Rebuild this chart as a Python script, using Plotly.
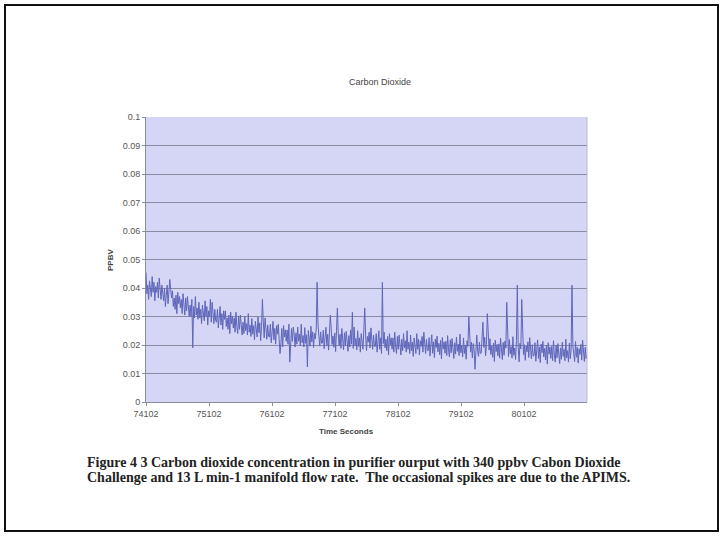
import plotly.graph_objects as go

# ---- data ----
t_start = 74102
t_step = 14
ppbv = [
    0.0455, 0.0380, 0.0410, 0.0360, 0.0425, 0.0405, 0.0370, 0.0440, 0.0385, 0.0420,
    0.0355, 0.0405, 0.0385, 0.0420, 0.0365, 0.0435, 0.0380, 0.0360, 0.0410, 0.0370,
    0.0355, 0.0400, 0.0335, 0.0375, 0.0410, 0.0345, 0.0385, 0.0430, 0.0395, 0.0365,
    0.0390, 0.0335, 0.0365, 0.0325, 0.0375, 0.0310, 0.0385, 0.0345, 0.0370, 0.0330,
    0.0360, 0.0310, 0.0380, 0.0330, 0.0305, 0.0365, 0.0320, 0.0370, 0.0345, 0.0300,
    0.0340, 0.0300, 0.0360, 0.0190, 0.0335, 0.0295, 0.0370, 0.0305, 0.0330, 0.0290,
    0.0350, 0.0295, 0.0325, 0.0275, 0.0340, 0.0320, 0.0285, 0.0355, 0.0300, 0.0335,
    0.0270, 0.0320, 0.0300, 0.0360, 0.0280, 0.0350, 0.0295, 0.0275, 0.0325, 0.0285,
    0.0280, 0.0325, 0.0260, 0.0300, 0.0335, 0.0270, 0.0310, 0.0255, 0.0320, 0.0290,
    0.0320, 0.0265, 0.0295, 0.0255, 0.0305, 0.0240, 0.0315, 0.0275, 0.0300, 0.0260,
    0.0295, 0.0245, 0.0315, 0.0265, 0.0240, 0.0300, 0.0255, 0.0305, 0.0280, 0.0235,
    0.0280, 0.0240, 0.0300, 0.0250, 0.0275, 0.0235, 0.0310, 0.0245, 0.0270, 0.0230,
    0.0293, 0.0238, 0.0268, 0.0218, 0.0283, 0.0263, 0.0228, 0.0298, 0.0243, 0.0278,
    0.0215, 0.0265, 0.0360, 0.0280, 0.0225, 0.0295, 0.0240, 0.0220, 0.0270, 0.0230,
    0.0228, 0.0273, 0.0208, 0.0248, 0.0283, 0.0218, 0.0258, 0.0203, 0.0268, 0.0238,
    0.0273, 0.0218, 0.0170, 0.0208, 0.0258, 0.0193, 0.0268, 0.0228, 0.0253, 0.0213,
    0.0253, 0.0203, 0.0273, 0.0140, 0.0198, 0.0258, 0.0213, 0.0263, 0.0238, 0.0193,
    0.0243, 0.0203, 0.0263, 0.0213, 0.0238, 0.0198, 0.0273, 0.0208, 0.0233, 0.0193,
    0.0261, 0.0206, 0.0236, 0.0123, 0.0251, 0.0231, 0.0196, 0.0266, 0.0211, 0.0246,
    0.0191, 0.0241, 0.0221, 0.0256, 0.0420, 0.0271, 0.0216, 0.0196, 0.0246, 0.0206,
    0.0207, 0.0252, 0.0187, 0.0227, 0.0262, 0.0197, 0.0237, 0.0182, 0.0247, 0.0305,
    0.0257, 0.0202, 0.0232, 0.0192, 0.0242, 0.0177, 0.0252, 0.0330, 0.0237, 0.0197,
    0.0238, 0.0188, 0.0258, 0.0208, 0.0183, 0.0243, 0.0198, 0.0248, 0.0223, 0.0178,
    0.0233, 0.0193, 0.0253, 0.0203, 0.0315, 0.0188, 0.0263, 0.0198, 0.0223, 0.0183,
    0.0250, 0.0195, 0.0225, 0.0175, 0.0240, 0.0220, 0.0185, 0.0255, 0.0330, 0.0235,
    0.0180, 0.0230, 0.0210, 0.0245, 0.0190, 0.0260, 0.0205, 0.0185, 0.0235, 0.0195,
    0.0195, 0.0240, 0.0175, 0.0215, 0.0250, 0.0185, 0.0225, 0.0170, 0.0420, 0.0205,
    0.0245, 0.0190, 0.0220, 0.0180, 0.0230, 0.0165, 0.0240, 0.0200, 0.0225, 0.0185,
    0.0225, 0.0175, 0.0245, 0.0195, 0.0170, 0.0230, 0.0185, 0.0235, 0.0210, 0.0165,
    0.0220, 0.0180, 0.0240, 0.0190, 0.0215, 0.0175, 0.0250, 0.0185, 0.0210, 0.0170,
    0.0235, 0.0180, 0.0210, 0.0160, 0.0225, 0.0205, 0.0170, 0.0240, 0.0185, 0.0220,
    0.0165, 0.0215, 0.0195, 0.0230, 0.0175, 0.0245, 0.0190, 0.0170, 0.0220, 0.0180,
    0.0181, 0.0226, 0.0161, 0.0201, 0.0236, 0.0171, 0.0211, 0.0156, 0.0221, 0.0191,
    0.0231, 0.0176, 0.0206, 0.0166, 0.0216, 0.0151, 0.0226, 0.0186, 0.0211, 0.0171,
    0.0213, 0.0163, 0.0233, 0.0183, 0.0158, 0.0218, 0.0173, 0.0223, 0.0198, 0.0153,
    0.0208, 0.0168, 0.0228, 0.0178, 0.0203, 0.0163, 0.0238, 0.0173, 0.0198, 0.0158,
    0.0225, 0.0170, 0.0200, 0.0150, 0.0215, 0.0195, 0.0300, 0.0230, 0.0175, 0.0210,
    0.0155, 0.0205, 0.0185, 0.0115, 0.0165, 0.0235, 0.0180, 0.0160, 0.0210, 0.0170,
    0.0172, 0.0217, 0.0280, 0.0192, 0.0227, 0.0162, 0.0202, 0.0310, 0.0212, 0.0182,
    0.0222, 0.0167, 0.0197, 0.0157, 0.0207, 0.0142, 0.0217, 0.0177, 0.0202, 0.0162,
    0.0204, 0.0154, 0.0224, 0.0174, 0.0149, 0.0209, 0.0164, 0.0214, 0.0189, 0.0350,
    0.0199, 0.0159, 0.0219, 0.0169, 0.0194, 0.0154, 0.0229, 0.0164, 0.0189, 0.0149,
    0.0216, 0.0410, 0.0191, 0.0141, 0.0206, 0.0186, 0.0360, 0.0221, 0.0166, 0.0201,
    0.0146, 0.0196, 0.0176, 0.0211, 0.0156, 0.0226, 0.0171, 0.0151, 0.0201, 0.0161,
    0.0163, 0.0208, 0.0143, 0.0183, 0.0218, 0.0153, 0.0193, 0.0138, 0.0203, 0.0173,
    0.0213, 0.0158, 0.0188, 0.0148, 0.0198, 0.0133, 0.0208, 0.0168, 0.0193, 0.0153,
    0.0195, 0.0145, 0.0215, 0.0165, 0.0140, 0.0200, 0.0155, 0.0205, 0.0180, 0.0135,
    0.0190, 0.0150, 0.0210, 0.0160, 0.0185, 0.0145, 0.0220, 0.0155, 0.0180, 0.0140,
    0.0207, 0.0152, 0.0182, 0.0410, 0.0197, 0.0177, 0.0142, 0.0212, 0.0157, 0.0192,
    0.0137, 0.0187, 0.0167, 0.0202, 0.0147, 0.0217, 0.0162, 0.0142, 0.0192, 0.0152,
    0.0170,
]
time_s = [t_start + t_step * i for i in range(len(ppbv))]

x_tick_vals = [74102, 75102, 76102, 77102, 78102, 79102, 80102]
x_tick_text = ["74102", "75102", "76102", "77102", "78102", "79102", "80102"]
y_tick_vals = [0, 0.01, 0.02, 0.03, 0.04, 0.05, 0.06, 0.07, 0.08, 0.09, 0.1]
y_tick_text = ["0", "0.01", "0.02", "0.03", "0.04", "0.05", "0.06", "0.07", "0.08", "0.09", "0.1"]

chart_title = "Carbon Dioxide"
x_title = "Time Seconds"
y_title = "PPBV"
caption_1 = "Figure 4 3 Carbon dioxide concentration in purifier ourput with 340 ppbv Cabon Dioxide"
caption_2 = "Challenge and 13 L min-1 manifold flow rate.  The occasional spikes are due to the APIMS."

# ---- geometry (pixels) ----
W, H = 723, 536
L, R, T, B = 146, 587, 117, 402


def px(x):
    return (x - L) / (R - L)


def py(y):
    return (B - y) / (B - T)


fig = go.Figure()
fig.add_trace(go.Scatter(
    x=time_s, y=ppbv, mode="lines",
    line=dict(color="#5e66ba", width=1),
    hoverinfo="x+y", showlegend=False,
))

sans = "Liberation Sans, Arial, sans-serif"
serif = "Liberation Serif, Times New Roman, serif"
fig.update_layout(
    width=W, height=H,
    margin=dict(l=L, r=W - R, t=T, b=H - B, pad=0),
    paper_bgcolor="white",
    plot_bgcolor="#d5d5f5",
    showlegend=False,
    xaxis=dict(
        range=[74102, 81102], tickvals=x_tick_vals, ticktext=x_tick_text,
        showgrid=False, zeroline=False,
        showline=True, linecolor="#8c8ca0", linewidth=1,
        ticks="outside", ticklen=3, tickcolor="#8c8ca0",
        tickfont=dict(family=sans, size=9, color="#555555"),
    ),
    yaxis=dict(
        range=[0, 0.1], tickvals=y_tick_vals, ticktext=y_tick_text,
        showgrid=True, gridcolor="#8a8aa0", gridwidth=1,
        zeroline=False,
        showline=True, linecolor="#8c8ca0", linewidth=1,
        ticks="outside", ticklen=3, tickcolor="#8c8ca0",
        tickfont=dict(family=sans, size=9, color="#555555"),
    ),
    shapes=[
        dict(type="rect", xref="paper", yref="paper",
             x0=px(5), x1=px(718), y0=py(531), y1=py(5),
             line=dict(color="#111111", width=2), fillcolor="rgba(0,0,0,0)", layer="above"),
        dict(type="line", xref="paper", yref="paper",
             x0=1, x1=1, y0=0, y1=1, line=dict(color="#b8b8cc", width=1), layer="above"),
    ],
    annotations=[
        dict(text=chart_title, xref="paper", yref="paper", x=px(380), y=py(82),
             showarrow=False, xanchor="center", yanchor="middle",
             font=dict(family=sans, size=9, color="#444444")),
        dict(text="<b>" + x_title + "</b>", xref="paper", yref="paper", x=px(346), y=py(432),
             showarrow=False, xanchor="center", yanchor="middle",
             font=dict(family=sans, size=8, color="#444444")),
        dict(text="<b>" + y_title + "</b>", xref="paper", yref="paper", x=px(110), y=py(260),
             showarrow=False, xanchor="center", yanchor="middle", textangle=-90,
             font=dict(family=sans, size=8, color="#444444")),
        dict(text="<b>" + caption_1 + "</b>", xref="paper", yref="paper", x=px(85), y=py(462),
             showarrow=False, xanchor="left", yanchor="middle",
             font=dict(family=serif, size=14, color="#222222")),
        dict(text="<b>" + caption_2 + "</b>", xref="paper", yref="paper", x=px(85), y=py(477),
             showarrow=False, xanchor="left", yanchor="middle",
             font=dict(family=serif, size=14, color="#222222")),
    ],
)

fig.write_html(
    "out.html",
    config={"displayModeBar": False},
    post_script="document.body.style.margin='0';document.body.style.overflow='hidden';",
)
